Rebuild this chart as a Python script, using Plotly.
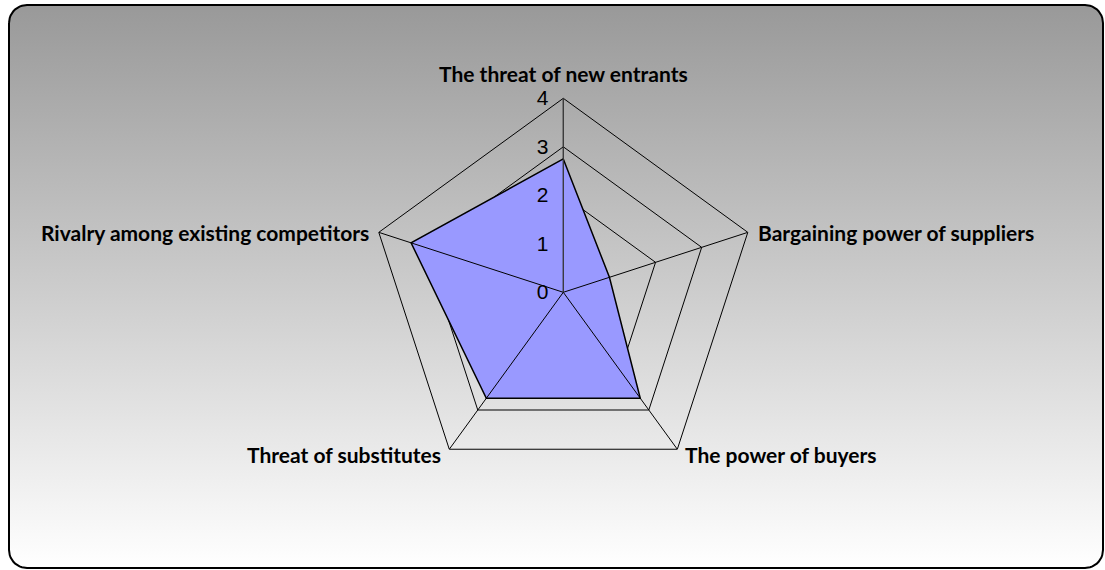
import numpy as np
import plotly.graph_objects as go

# =============================================================================
# DATA
# =============================================================================

forces = [
    'The threat of new entrants',
    'Bargaining power of suppliers',
    'The power of buyers',
    'Threat of substitutes',
    'Rivalry among existing competitors',
]
scores = [2.75, 1.0, 2.7, 2.7, 3.3]
radial_ticks = [0, 1, 2, 3, 4]

W, H = 1105, 570

# =============================================================================
# BACKGROUND FRAME (rounded rect with vertical gradient)
# =============================================================================

x0, x1, y0, y1, rad = 9, 1103, 5, 568, 18
t = np.linspace(0, np.pi / 2, 12)
fx, fy = [], []
# top-left, top-right, bottom-right, bottom-left corners
for cx, cy, a0 in [(x0 + rad, y0 + rad, np.pi), (x1 - rad, y0 + rad, 1.5 * np.pi),
                   (x1 - rad, y1 - rad, 0), (x0 + rad, y1 - rad, 0.5 * np.pi)]:
    fx += list(cx + rad * np.cos(a0 + t))
    fy += list(cy + rad * np.sin(a0 + t))
fx.append(fx[0])
fy.append(fy[0])

fig = go.Figure()

fig.add_trace(go.Scatter(
    x=fx, y=fy, mode='lines', fill='toself',
    line=dict(color='black', width=2),
    fillgradient=dict(type='vertical', start=y0, stop=y1,
                      colorscale=[[0, '#999999'], [1, '#ffffff']]),
    hoverinfo='skip', showlegend=False,
))

# =============================================================================
# RADAR
# =============================================================================

closed_f = forces + [forces[0]]
closed_s = scores + [scores[0]]

fig.add_trace(go.Scatterpolar(
    r=closed_s, theta=closed_f,
    mode='lines', fill='toself',
    fillcolor='#9999ff',
    line=dict(color='black', width=1.5),
    showlegend=False,
))

# spokes drawn above the filled area
sr, st = [], []
for f in forces:
    sr += [0, radial_ticks[-1], None]
    st += [f, f, None]
fig.add_trace(go.Scatterpolar(
    r=sr, theta=st, mode='lines',
    line=dict(color='black', width=1),
    hoverinfo='skip', showlegend=False,
))

# category labels as annotations next to each outer vertex
cx_px, cy_px, R = 563.3, 292.3, 194
label_style = [  # (dx, dy, xanchor)
    (0, -25, 'center'),
    (8, 0, 'left'),
    (6, 5, 'left'),
    (-6, 5, 'right'),
    (-8, 0, 'right'),
]
annotations = []
for i, (name, (dx, dy, xa)) in enumerate(zip(forces, label_style)):
    ang = np.deg2rad(90 - 72 * i)
    vx = cx_px + R * np.cos(ang) + dx
    vy = cy_px - R * np.sin(ang) + dy
    annotations.append(dict(
        text=name, x=vx / W, y=1 - vy / H, xref='paper', yref='paper',
        xanchor=xa, yanchor='middle', showarrow=False,
        font=dict(family='Lato', size=21, color='black', weight='bold'),
    ))

fig.update_layout(
    width=W, height=H,
    margin=dict(l=0, r=0, t=0, b=0),
    paper_bgcolor='white',
    plot_bgcolor='rgba(0,0,0,0)',
    xaxis=dict(domain=[0, 1], range=[0, W], visible=False, fixedrange=True),
    yaxis=dict(domain=[0, 1], range=[H, 0], visible=False, fixedrange=True),
    annotations=annotations,
    polar=dict(
        domain=dict(x=[(cx_px - R) / W, (cx_px + R) / W],
                    y=[1 - (cy_px + R) / H, 1 - (cy_px - R) / H]),
        bgcolor='rgba(0,0,0,0)',
        gridshape='linear',
        angularaxis=dict(
            rotation=90, direction='clockwise',
            showgrid=False, showline=True,
            linecolor='black', linewidth=1,
            ticks='', showticklabels=False,
        ),
        radialaxis=dict(
            range=[0, 4], tickvals=radial_ticks, angle=90,
            side='counterclockwise', tickangle=90,
            showline=True, linecolor='#444444', linewidth=1,
            gridcolor='black', gridwidth=1,
            ticks='outside', ticklen=7, tickcolor='rgba(0,0,0,0)',
            tickfont=dict(family='Liberation Sans', size=21, color='black'),
        ),
    ),
)

# page body margin off so the 1105x570 figure fills the window exactly
fig.write_html('out.html', config={'displayModeBar': False},
               post_script="document.body.style.margin='0';")
